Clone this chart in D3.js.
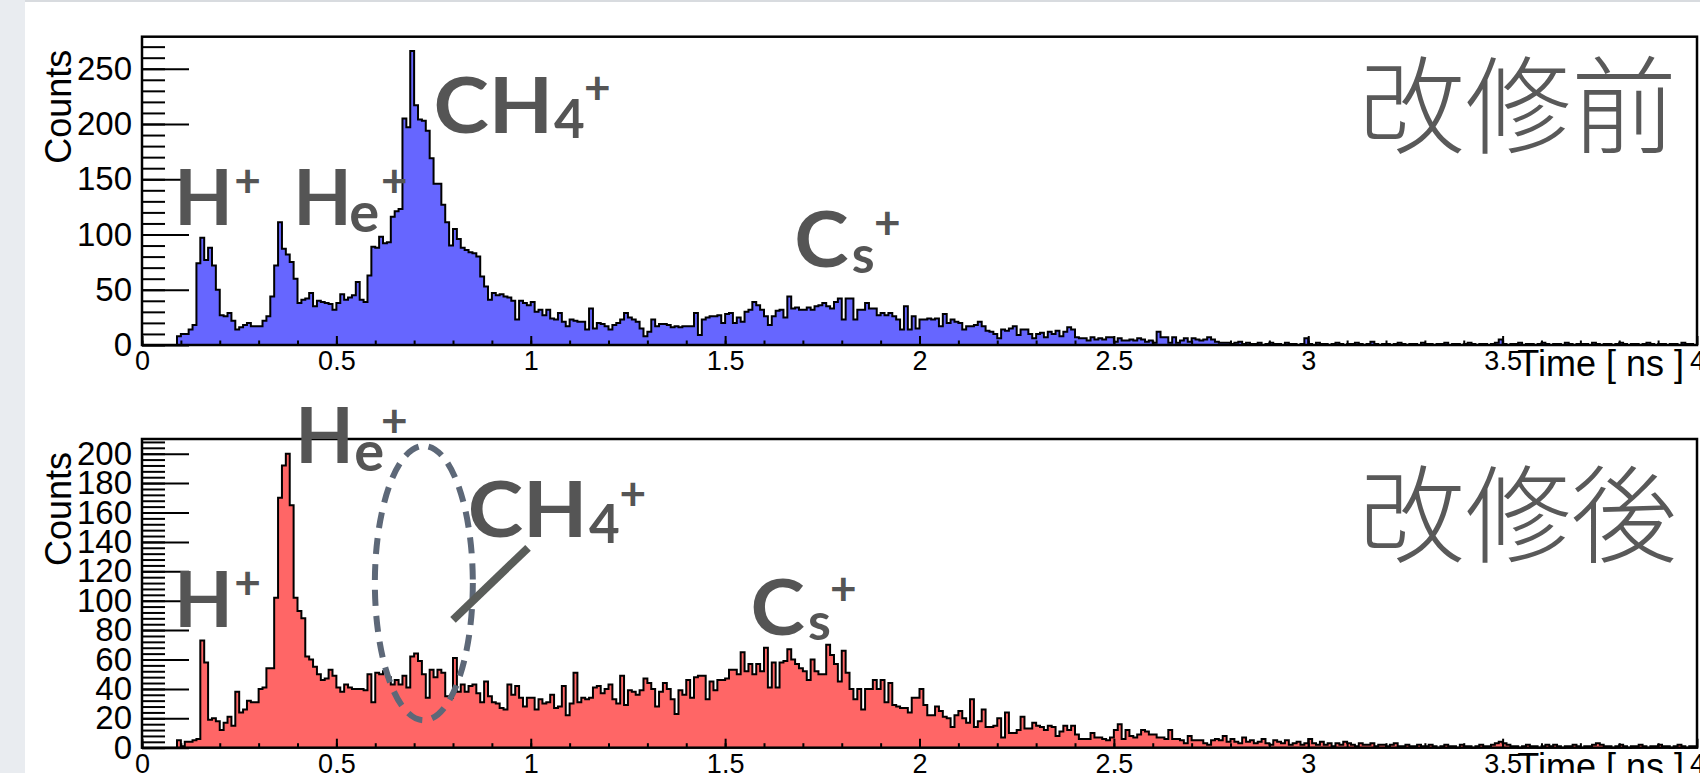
<!DOCTYPE html>
<html>
<head>
<meta charset="utf-8">
<script src="https://cdn.jsdelivr.net/npm/d3@7"></script>
<style>
  body { margin: 0; background: #fff; }
  svg { display: block; }
</style>
</head>
<body>
<svg id="chart"></svg>
<script>
// histogram bins: 0.01 ns wide, first filled bin starts at 0.09 ns
const binWidth = 0.01
const firstBin = 0.09

// counts per bin, before the upgrade (blue)
const countsBefore = [
  8,10,10,14,18,74,97,77,88,72, 50,27,26,29,22,14,16,18,20,17,
  17,17,22,26,44,72,111,87,82,75, 60,38,41,42,47,35,40,39,38,37,
  32,38,46,41,43,45,57,41,39,63, 89,88,98,92,93,116,121,123,205,197,
  266,217,204,203,194,169,146,146,127,111, 90,105,96,88,86,84,83,80,62,53,
  41,47,45,46,44,43,40,23,40,38, 36,39,30,32,27,32,24,23,29,21,
  17,23,22,21,21,14,33,15,20,19, 17,14,18,20,23,29,25,23,21,15,
  8,12,23,17,19,19,18,16,17,16, 17,17,17,29,9,23,25,26,26,27,
  20,28,29,20,25,21,30,32,39,36, 32,26,18,26,31,32,25,44,33,34,
  32,32,34,32,35,36,38,35,33,39, 42,23,42,42,23,32,32,38,33,33,
  27,29,27,29,26,23,14,35,14,26, 15,23,23,24,23,24,17,28,20,23,
  21,20,14,17,17,18,21,17,13,12, 10,6,14,13,15,17,9,14,14,10,
  6,10,11,7,12,10,13,8,12,16, 14,7,6,6,4,7,5,6,5,7,
  7,3,6,4,4,5,4,6,5,3, 4,2,12,7,7,2,7,2,4,6,
  3,6,5,4,5,7,5,3,2,2, 2,1,2,3,1,2,1,1,2,0,
  1,2,1,1,0,2,1,1,0,1, 6,1,0,2,1,1,0,1,2,1,
  0,1,1,2,1,0,1,3,1,0, 1,1,0,1,2,1,0,1,1,0,
  2,1,1,0,1,1,2,0,1,1, 0,1,2,1,0,1,1,0,1,2,
  5,1,0,1,1,2,0,1,1,0, 1,2,1,0,1,1,0,2,1,0,
  1,1,1,0,2,1,0,1,1,0, 1,2,1,0,1,1,0,1,2,1,
  0,1,1,0,1,1,0,2,1,1, 0
]

// counts per bin, after the upgrade (red)
const countsAfter = [
  5,1,4,4,5,6,73,58,19,20, 18,12,17,21,15,38,24,26,32,31,
  31,40,41,54,54,102,170,192,200,165, 102,93,88,62,60,55,50,46,47,53,
  49,41,38,43,41,40,40,40,39,50, 31,51,50,52,48,43,46,43,49,41,
  62,64,59,50,34,53,48,53,51,35, 34,61,38,43,38,42,43,37,31,45,
  35,31,30,27,26,43,36,42,34,28, 34,34,26,33,30,31,36,27,28,42,
  22,30,51,31,34,33,34,41,42,37, 40,43,33,30,49,29,39,38,36,39,
  47,44,40,28,38,44,40,33,23,39, 36,46,34,48,49,49,33,45,39,46,
  46,47,53,53,50,65,52,57,50,57, 52,68,41,58,41,58,59,67,60,57,
  54,52,46,60,52,50,50,70,63,57, 45,66,51,40,33,40,26,40,40,46,
  40,46,31,44,29,28,27,27,24,34, 34,40,29,22,22,28,25,21,20,14,
  22,25,20,17,33,14,18,26,14,14, 15,20,7,24,10,10,12,21,13,13,
  17,15,14,12,15,14,8,11,15,12, 15,9,6,6,6,10,7,7,6,5,
  7,12,16,6,12,8,7,9,12,11, 9,9,7,7,6,12,6,6,5,3,
  8,5,5,5,3,2,5,6,5,8, 4,6,4,3,7,4,5,3,4,6,
  3,2,5,4,3,5,2,3,4,2, 3,6,3,2,4,2,3,1,3,2,
  4,3,2,1,3,2,2,3,1,2, 2,1,2,3,1,1,2,1,1,2,
  1,1,2,1,0,1,2,1,1,0, 2,1,1,0,1,2,1,1,2,3,
  4,3,2,1,1,0,1,2,1,1, 0,1,2,1,2,1,0,1,1,2,
  1,0,1,1,2,3,2,1,1,0, 1,2,1,0,1,1,2,1,0,1,
  1,2,1,1,0,1,2,1,0,1, 1
]

const xTickValues = [0, 0.5, 1, 1.5, 2, 2.5, 3, 3.5, 4]
const xTickLabels = ['0', '0.5', '1', '1.5', '2', '2.5', '3', '3.5', '4']
const yTicksBefore = [0, 50, 100, 150, 200, 250]
const yTicksAfter = [0, 20, 40, 60, 80, 100, 120, 140, 160, 180, 200]
const panelTitles = ['改修前', '改修後']
const xTitle = 'Time [ ns ]'
const yTitle = 'Counts'

const W = 1700, H = 773
const svg = d3.select('#chart').attr('width', W).attr('height', H)

// slide background strips
svg.append('rect').attr('x', 0).attr('y', 0).attr('width', 25).attr('height', H).attr('fill', '#e9ecf0')
svg.append('rect').attr('x', 25).attr('y', 0).attr('width', W - 25).attr('height', 2).attr('fill', '#d8dbdf')

const tickFont = '"Liberation Sans", Arial, Helvetica, sans-serif'
const ionFont = 'Lato, "Open Sans", sans-serif'

const x = d3.scaleLinear().domain([0, 4]).range([142, 1697])

function drawPanel(p) {
  const y = d3.scaleLinear().domain([0, p.yMax]).range([p.bottom, p.top])
  const g = svg.append('g')

  // histogram points, stepped
  const pts = p.counts.map((c, i) => ({ t: firstBin + i * binWidth, c: c }))
  const tEnd = firstBin + p.counts.length * binWidth
  const stepPts = [{ t: firstBin, c: 0 }].concat(pts, [{ t: tEnd, c: p.counts[p.counts.length - 1] }, { t: tEnd, c: 0 }])

  const area = d3.area()
    .x(d => x(d.t))
    .y0(y(0))
    .y1(d => y(d.c))
    .curve(d3.curveStepAfter)
  const line = d3.line()
    .x(d => x(d.t))
    .y(d => y(d.c))
    .curve(d3.curveStepAfter)

  g.append('path').attr('d', area(stepPts)).attr('fill', p.fill)
  g.append('path').attr('d', line(stepPts))
    .attr('fill', 'none').attr('stroke', '#000').attr('stroke-width', 2)

  // y axis, ticks drawn inside the frame like ROOT
  const yMinor = d3.range(0, p.yMax, p.yMinorStep)
  g.append('g').attr('transform', 'translate(' + x(0) + ',0)')
    .call(d3.axisLeft(y).tickValues(yMinor).tickSize(-23).tickSizeOuter(0).tickFormat(''))
  const yAx = g.append('g').attr('transform', 'translate(' + x(0) + ',0)')
    .call(d3.axisLeft(y).tickValues(p.yTicks).tickSize(-47).tickSizeOuter(0).tickPadding(10).tickFormat(d3.format('d')))
  yAx.selectAll('text').attr('font-size', 33).attr('font-family', tickFont).attr('fill', '#000')

  // x axis
  const xMinor = d3.range(0, 40).map(i => i / 10)
  g.append('g').attr('transform', 'translate(0,' + p.bottom + ')')
    .call(d3.axisBottom(x).tickValues(xMinor).tickSize(-4.5).tickSizeOuter(0).tickFormat(''))
  const xAx = g.append('g').attr('transform', 'translate(0,' + p.bottom + ')')
    .call(d3.axisBottom(x).tickValues(xTickValues).tickSize(-9).tickSizeOuter(0).tickPadding(6)
      .tickFormat((d, i) => xTickLabels[i]))
  xAx.selectAll('text').attr('font-size', 27).attr('font-family', tickFont).attr('fill', '#000')

  g.selectAll('.domain').remove()
  g.selectAll('.tick line').attr('stroke', '#000').attr('stroke-width', 2)

  // frame
  g.append('rect')
    .attr('x', x(0)).attr('y', p.top)
    .attr('width', x(4) - x(0)).attr('height', p.bottom - p.top)
    .attr('fill', 'none').attr('stroke', '#000').attr('stroke-width', 2.5)

  // axis titles
  g.append('text')
    .attr('transform', 'translate(71,' + (p.top + 13) + ') rotate(-90)')
    .attr('text-anchor', 'end')
    .attr('font-family', tickFont).attr('font-size', 36)
    .text(yTitle)
  g.append('text')
    .attr('x', 1684).attr('y', p.bottom + 31)
    .attr('text-anchor', 'end')
    .attr('font-family', tickFont).attr('font-size', 36)
    .text(xTitle)

  // panel title
  g.append('text')
    .attr('x', 1677).attr('y', p.titleY)
    .attr('text-anchor', 'end')
    .attr('font-family', '"Noto Sans CJK JP", "Noto Sans CJK SC", sans-serif')
    .attr('font-weight', 300)
    .attr('font-size', 106).attr('fill', '#595959')
    .text(p.title)

  // ion labels: each part placed in data coordinates, wide letters stretched a little
  p.ions.forEach(ion => {
    ion.parts.forEach(part => {
      g.append('text')
        .attr('transform', 'translate(' + x(part.t) + ',' + y(part.c) + ') scale(' + (part.sx || 1) + ',1)')
        .attr('font-family', ionFont).attr('font-weight', 700)
        .attr('font-size', part.size).attr('fill', '#555')
        .text(part.s)
    })
  })

  return { g: g, y: y }
}

const before = drawPanel({
  top: 36.7, bottom: 345, yMax: 279, yMinorStep: 10,
  counts: countsBefore, fill: '#6666ff', yTicks: yTicksBefore,
  title: panelTitles[0], titleY: 145,
  ions: [
    { parts: [{ s: 'H', t: 0.083, c: 108.5, size: 76 }, { s: '+', t: 0.237, c: 134, size: 46 }] },
    { parts: [{ s: 'H', t: 0.389, c: 108.5, size: 76 }, { s: 'e', t: 0.533, c: 102, size: 56 },
              { s: '+', t: 0.615, c: 134, size: 46 }] },
    { parts: [{ s: 'CH', t: 0.750, c: 191.7, size: 76, sx: 1.1 }, { s: '4', t: 1.060, c: 187, size: 53 },
              { s: '+', t: 1.137, c: 218, size: 46 }] },
    { parts: [{ s: 'C', t: 1.678, c: 70.5, size: 76, sx: 1.08 }, { s: 's', t: 1.826, c: 65, size: 52 },
              { s: '+', t: 1.883, c: 96, size: 46 }] }
  ]
})

const after = drawPanel({
  top: 439, bottom: 747.7, yMax: 210, yMinorStep: 4,
  counts: countsAfter, fill: '#ff6666', yTicks: yTicksAfter,
  title: panelTitles[1], titleY: 554,
  ions: [
    { parts: [{ s: 'H', t: 0.083, c: 82, size: 76 }, { s: '+', t: 0.237, c: 101, size: 46 }] },
    { parts: [{ s: 'H', t: 0.394, c: 194, size: 76 }, { s: 'e', t: 0.546, c: 188.4, size: 56 },
              { s: '+', t: 0.615, c: 211.5, size: 46 }] },
    { parts: [{ s: 'CH', t: 0.838, c: 143.5, size: 76, sx: 1.1 }, { s: '4', t: 1.150, c: 139.4, size: 53 },
              { s: '+', t: 1.228, c: 161.5, size: 46 }] },
    { parts: [{ s: 'C', t: 1.565, c: 76.7, size: 76, sx: 1.08 }, { s: 's', t: 1.713, c: 73.3, size: 52 },
              { s: '+', t: 1.770, c: 97, size: 46 }] }
  ]
})

// dashed ellipse around the vanished CH4+ peak, and the strike-out mark
after.g.append('ellipse')
  .attr('cx', x(0.725)).attr('cy', after.y(112))
  .attr('rx', x(0.725) - x(0.599)).attr('ry', after.y(18.7) - after.y(112))
  .attr('fill', 'none').attr('stroke', '#5d6878').attr('stroke-width', 6)
  .attr('stroke-dasharray', '16 10')
after.g.append('line')
  .attr('x1', x(0.80)).attr('y1', after.y(87))
  .attr('x2', x(0.993)).attr('y2', after.y(136))
  .attr('stroke', '#5a5d5a').attr('stroke-width', 8)
</script>
</body>
</html>
